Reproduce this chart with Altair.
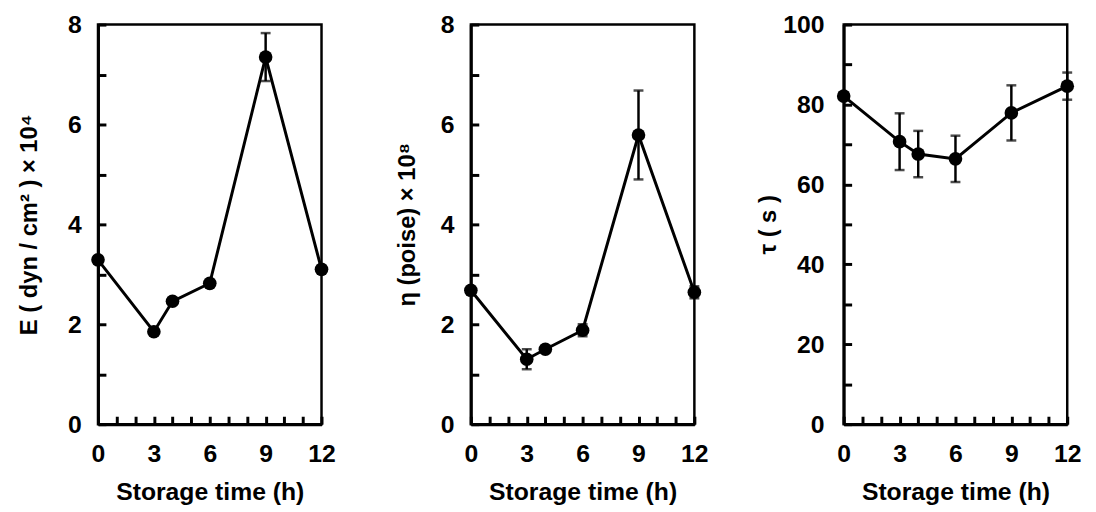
import altair as alt
import pandas as pd

# Storage time (h)
hours = [0, 3, 4, 6, 9, 12]

# Panel 1: E (dyn/cm2) x 10^4
E_mean = [3.29, 1.85, 2.46, 2.82, 7.35, 3.10]
E_sd = [0.05, 0.05, 0.05, 0.05, 0.48, 0.05]

# Panel 2: eta (poise) x 10^8
eta_mean = [2.68, 1.30, 1.50, 1.88, 5.79, 2.64]
eta_sd = [0.05, 0.20, 0.05, 0.12, 0.89, 0.12]

# Panel 3: tau (s)
tau_mean = [82.1, 70.7, 67.6, 66.4, 77.9, 84.6]
tau_sd = [0.8, 7.1, 5.8, 5.8, 6.9, 3.4]

x_major = [0, 3, 6, 9, 12]
x_minor = list(range(0, 13))

W, H = 226, 404
FONT = "Liberation Sans"
INK = "#000000"


def panel(mean, sd, ymax, y_major, y_minor, title, title_pad, label_pad):
    df = pd.DataFrame({"t": hours, "v": mean,
                       "lo": [m - s for m, s in zip(mean, sd)],
                       "hi": [m + s for m, s in zip(mean, sd)]})
    xs = alt.Scale(domain=[0, 12], nice=False, zero=False)
    ys = alt.Scale(domain=[0, ymax], nice=False)
    base = alt.Chart(df)

    main_x = alt.X("t:Q", scale=xs, axis=alt.Axis(
        values=x_major, ticks=False, grid=False, domainColor=INK, domainWidth=3,
        labelFontSize=25, labelFont=FONT, labelFontWeight="bold", labelColor=INK,
        labelPadding=18, labelFlush=False, title="Storage time (h)", titleFontSize=25,
        titleFont=FONT, titleFontWeight="bold", titleColor=INK, titlePadding=13))
    main_y = alt.Y("v:Q", scale=ys, axis=alt.Axis(
        values=y_major, ticks=False, grid=False, domainColor=INK, domainWidth=3,
        labelFontSize=25, labelFont=FONT, labelFontWeight="bold", labelColor=INK,
        labelPadding=label_pad, labelFlush=False, title=title, titleFontSize=24,
        titleFont=FONT, titleFontWeight="bold", titleColor=INK, titlePadding=title_pad))
    line = base.mark_line(color=INK, strokeWidth=3).encode(x=main_x, y=main_y)

    rules = base.mark_rule(color=INK, strokeWidth=2.5).encode(
        x=alt.X("t:Q", scale=xs, axis=None), y=alt.Y("lo:Q", scale=ys, axis=None), y2="hi:Q")
    cap_lo = base.mark_tick(color=INK, orient="horizontal", size=10, thickness=2.5).encode(
        x=alt.X("t:Q", scale=xs, axis=None), y=alt.Y("lo:Q", scale=ys, axis=None))
    cap_hi = base.mark_tick(color=INK, orient="horizontal", size=10, thickness=2.5).encode(
        x=alt.X("t:Q", scale=xs, axis=None), y=alt.Y("hi:Q", scale=ys, axis=None))

    inner_x = alt.X("t:Q", scale=xs, axis=alt.Axis(
        orient="top", offset=-H, values=x_minor, labels=False, domain=False,
        grid=False, tickSize=8, tickWidth=3, tickColor=INK, title=None))
    inner_y = alt.Y("v:Q", scale=ys, axis=alt.Axis(
        orient="right", offset=-W, values=y_minor, labels=False, domain=False,
        grid=False, tickSize=8, tickWidth=3, tickColor=INK, title=None))
    pts = base.mark_circle(color=INK, size=190, opacity=1).encode(x=inner_x, y=inner_y)

    return alt.layer(line, rules, cap_lo, cap_hi, pts).resolve_axis(
        x="independent", y="independent").properties(width=W, height=H)


p1 = panel(E_mean, E_sd, 8, [0, 2, 4, 6, 8], list(range(0, 9)),
           "E ( dyn / cm² )  ×  10⁴", 26, 17)
p2 = panel(eta_mean, eta_sd, 8, [0, 2, 4, 6, 8], list(range(0, 9)),
           "η   (poise)    ×  10⁸", 21, 17)
p3 = panel(tau_mean, tau_sd, 100, [0, 20, 40, 60, 80, 100], list(range(0, 101, 10)),
           "τ  ( s )", 2, 20)

chart = alt.hconcat(p1, p2, p3, spacing=151, bounds="flush").properties(
    padding={"left": 8, "top": 0, "right": 5, "bottom": 0}
).configure_view(stroke=INK, strokeWidth=2.5)

chart.save("out.html", embed_options={"renderer": "svg", "actions": False})
